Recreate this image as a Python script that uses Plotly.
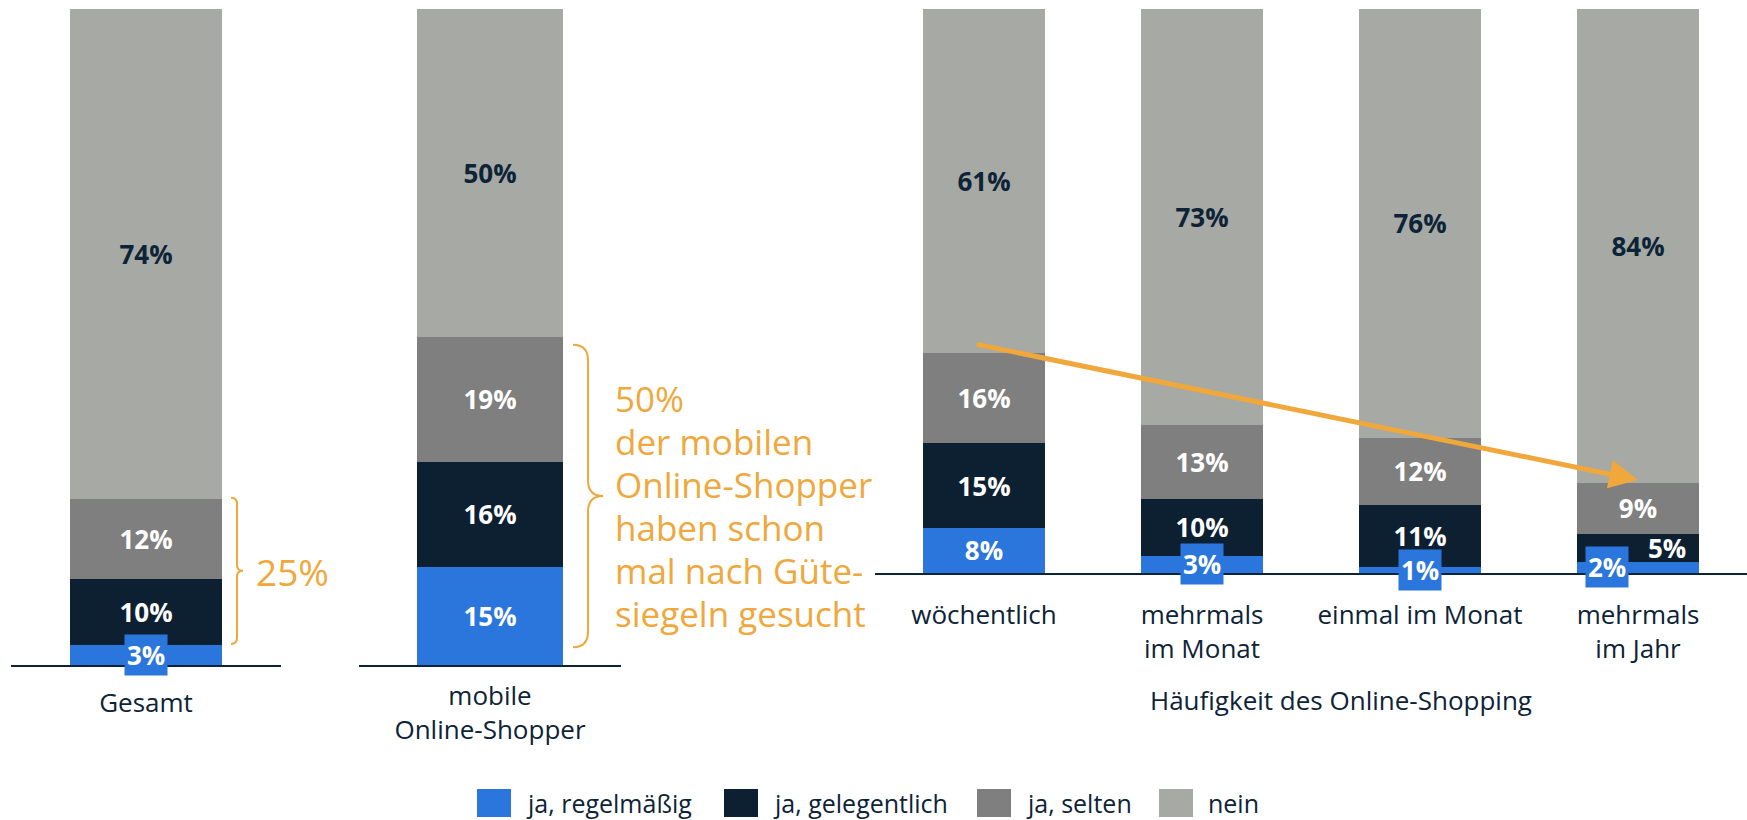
import plotly.graph_objects as go

W, H = 1747, 820

# Daten (Anteile in %)
series = ['ja, regelmäßig', 'ja, gelegentlich', 'ja, selten', 'nein']
colors = ['#2A76DD', '#0C2032', '#7F7F7F', '#A7A9A4']
text_colors = ['white', 'white', 'white', '#0D2337']

gesamt_cats = ['Gesamt']
gesamt_vals = [[3], [10], [12], [74]]

mobile_cats = ['mobile<br>Online-Shopper']
mobile_vals = [[15], [16], [19], [50]]

freq_cats = ['wöchentlich', 'mehrmals<br>im Monat', 'einmal im Monat', 'mehrmals<br>im Jahr']
freq_vals = [
    [8, 3, 1, 2],
    [15, 10, 11, 5],
    [16, 13, 12, 9],
    [61, 73, 76, 84],
]

NAVY = '#0D2337'
ORANGE = '#F0A73B'
FONT = 'Open Sans'


def px(x):
    return x / W


def py(y):
    return 1 - y / H


fig = go.Figure()
annotations = []
shapes = []

panels = [
    ('x', 'y', gesamt_cats, gesamt_vals),
    ('x2', 'y2', mobile_cats, mobile_vals),
    ('x3', 'y3', freq_cats, freq_vals),
]

for p, (xa, ya, cats, vals) in enumerate(panels):
    n = len(cats)
    totals = [sum(vals[s][i] for s in range(4)) for i in range(n)]
    small_blue = [vals[0][i] < 4 for i in range(n)]
    for s in range(4):
        labels = []
        for i in range(n):
            v = vals[s][i]
            # kleine Segmente bekommen eigene Beschriftung
            if s == 0 and small_blue[i]:
                labels.append('')
            elif s == 1 and small_blue[i] and v < 6:
                labels.append('')
            else:
                labels.append(f'{v}%')
        fig.add_trace(go.Bar(
            x=cats, y=vals[s], name=series[s],
            marker=dict(color=colors[s], line_width=0),
            text=labels, textposition='inside', insidetextanchor='middle',
            textangle=0, constraintext='none',
            textfont=dict(family=FONT, size=26, color=text_colors[s], weight='bold'),
            xaxis=xa, yaxis=ya, showlegend=False, hoverinfo='skip',
        ))
    for i in range(n):
        if not small_blue[i]:
            continue
        scale = 100 / totals[i]
        blue_mid = vals[0][i] * scale / 2
        crowded = vals[1][i] < 6
        annotations.append(dict(
            x=cats[i], y=blue_mid, xref=xa, yref=ya, text=f'<b>{vals[0][i]}%</b>',
            showarrow=False, bgcolor=colors[0], borderpad=2,
            font=dict(family=FONT, size=26, color='white'),
            xshift=-31 if crowded else 0,
        ))
        if crowded:
            dark_mid = (vals[0][i] + vals[1][i] / 2) * scale
            annotations.append(dict(
                x=cats[i], y=dark_mid, xref=xa, yref=ya, text=f'<b>{vals[1][i]}%</b>',
                showarrow=False, font=dict(family=FONT, size=26, color='white'),
                xshift=29,
            ))

# Achsen
axis_common = dict(showgrid=False, zeroline=False, showline=True, linecolor=NAVY,
                   linewidth=2, ticks='', tickfont=dict(family=FONT, size=26, color=NAVY),
                   fixedrange=True)
yaxis_common = dict(range=[0, 100], visible=False, fixedrange=True)

fig.update_layout(
    width=W, height=H,
    margin=dict(l=0, r=0, t=0, b=0),
    paper_bgcolor='white', plot_bgcolor='white',
    barmode='stack', barnorm='percent', bargap=0.44,
    showlegend=False,
    font=dict(family=FONT, color=NAVY),
    xaxis=dict(domain=[px(11), px(281)], anchor='y', range=[-0.5, 0.5],
               ticklabelstandoff=14, **axis_common),
    xaxis2=dict(domain=[px(359), px(621)], anchor='y2', range=[-0.5, 0.5],
                ticklabelstandoff=7, **axis_common),
    xaxis3=dict(domain=[px(875), 1.0], anchor='y3', range=[-0.5, 3.5],
                ticklabelstandoff=18, **axis_common),
    yaxis=dict(domain=[py(665), py(9)], anchor='x', **yaxis_common),
    yaxis2=dict(domain=[py(665), py(9)], anchor='x2', **yaxis_common),
    yaxis3=dict(domain=[py(573), py(9)], anchor='x3', **yaxis_common),
)


def brace(x0, w, ytop, ybot, r, yref):
    x1 = px(x0 + w / 2)
    x2 = px(x0 + w)
    xa = px(x0)
    ym = (ytop + ybot) / 2
    path = (f'M {xa},{ytop} Q {x1},{ytop} {x1},{ytop - r} '
            f'L {x1},{ym + r} Q {x1},{ym} {x2},{ym} '
            f'Q {x1},{ym} {x1},{ym - r} '
            f'L {x1},{ybot + r} Q {x1},{ybot} {xa},{ybot}')
    return dict(type='path', path=path, xref='paper', yref=yref,
                line=dict(color=ORANGE, width=2))


shapes.append(brace(231, 12, 25.5, 3.2, 0.9, 'y'))
shapes.append(brace(573, 30, 48.8, 2.7, 2.4, 'y2'))

annotations.append(dict(
    x=px(254), y=py(571), xref='paper', yref='paper', xanchor='left', yanchor='middle',
    text='25%', showarrow=False, font=dict(family=FONT, size=37, color=ORANGE),
))
note_lines = ['50%', 'der mobilen', 'Online-Shopper', 'haben schon',
              'mal nach Güte-', 'siegeln gesucht']
for k, line in enumerate(note_lines):
    annotations.append(dict(
        x=px(613), y=py(398 + 43 * k), xref='paper', yref='paper',
        xanchor='left', yanchor='middle', showarrow=False, text=line,
        font=dict(family=FONT, size=35, color=ORANGE),
    ))

# Trendpfeil von wöchentlich zu mehrmals im Jahr
ja_first = sum(freq_vals[s][0] for s in range(3))
ja_last = sum(freq_vals[s][3] for s in range(3))
annotations.append(dict(
    x=3, y=ja_last + 0.5, xref='x3', yref='y3',
    ax=-0.04, ay=ja_first + 1.6, axref='x3', ayref='y3',
    text='', showarrow=True, arrowhead=2, arrowsize=1.15, arrowwidth=5,
    arrowcolor=ORANGE, standoff=0,
))

annotations.append(dict(
    x=px(1341), y=py(700), xref='paper', yref='paper', xanchor='center', yanchor='middle',
    text='Häufigkeit des Online-Shopping', showarrow=False,
    font=dict(family=FONT, size=26, color=NAVY),
))

# Legende
legend_x = [477, 724, 977, 1159]
for s in range(4):
    shapes.append(dict(type='rect', xref='paper', yref='paper',
                       x0=px(legend_x[s]), x1=px(legend_x[s] + 34),
                       y0=py(817), y1=py(789),
                       fillcolor=colors[s], line_width=0))
    annotations.append(dict(
        x=px(legend_x[s] + 47), y=py(803), xref='paper', yref='paper',
        xanchor='left', yanchor='middle', text=series[s], showarrow=False,
        font=dict(family=FONT, size=25, color=NAVY),
    ))

fig.update_layout(annotations=annotations, shapes=shapes)

fig.write_html('out.html', config={'displayModeBar': False},
               post_script="document.body.style.margin = '0';")
